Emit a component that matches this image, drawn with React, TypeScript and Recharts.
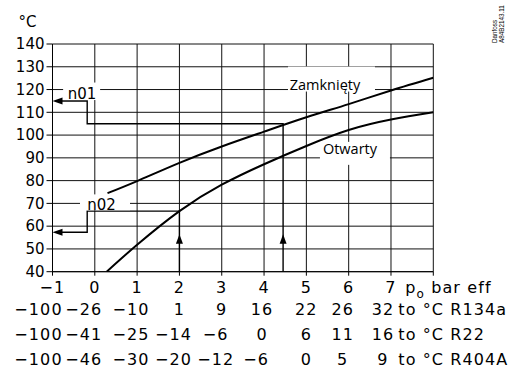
import React from 'react';
import { ComposedChart, Line, XAxis, YAxis, CartesianGrid, ReferenceDot } from 'recharts';

const pressureTicks = [-1, 0, 1, 2, 3, 4, 5, 6, 7, 8];
const temperatureTicks = [40, 50, 60, 70, 80, 90, 100, 110, 120, 130, 140];

const r134a = [-100, -26, -10, 1, 9, 16, 22, 26, 32];
const r22 = [-100, -41, -25, -14, -6, 0, 6, 11, 16];
const r404a = [-100, -46, -30, -20, -12, -6, 0, 5, 9];
const refrigerantNames = ['R134a', 'R22', 'R404A'];
const refrigerantRows = [r134a, r22, r404a];

const closedPressure = [0.3, 1, 2, 3, 4, 5, 6, 7, 8];
const closedTemp = [74.5, 79.8, 87.8, 95, 101.5, 107.8, 113.6, 119.6, 125.2];
const openPressure = [0.28, 1, 2, 3, 4, 5, 6, 7, 8];
const openTemp = [40, 51.8, 66.6, 78.2, 87.2, 95.2, 102.2, 106.8, 110];

const n01Pressure = [4.45, 4.45, -0.18, -0.18, -0.9];
const n01Temp = [40, 105, 105, 115, 115];
const n02Pressure = [2, 2, -0.18, -0.18, -0.9];
const n02Temp = [40, 66.6, 66.6, 57.3, 57.3];

const closedLabel = 'Zamknięty';
const openLabel = 'Otwarty';

const toPoints = (xs: number[], ys: number[]) => xs.map((x, i) => ({ x, y: ys[i] }));
const closedData = toPoints(closedPressure, closedTemp);
const openData = toPoints(openPressure, openTemp);
const n01Data = toPoints(n01Pressure, n01Temp);
const n02Data = toPoints(n02Pressure, n02Temp);

const FONT = 'DejaVu Sans';
const fmt = (v: number) => (v < 0 ? '\u2212' + Math.abs(v) : String(v));
const colShift = [-14, -11, -6, 0, 0, -2, 0, -6, -8];

function PressureTick(props: any) {
  const { x, y, payload } = props;
  const v = payload.value as number;
  const i = pressureTicks.indexOf(v);
  const base = { fontFamily: FONT, fontSize: 16, fill: '#000', letterSpacing: 1.1 } as any;
  if (i === pressureTicks.length - 1) {
    return (
      <g>
        <text x={x - 28} y={y + 15} {...base}>
          p<tspan dy={5} fontSize={12}>o</tspan>
          <tspan dy={-5}> bar eff</tspan>
        </text>
        {refrigerantNames.map((name, k) => (
          <text key={name} x={x - 35} y={y + 37.5 + 25 * k} {...base}>
            {'to °C ' + name}
          </text>
        ))}
      </g>
    );
  }
  return (
    <g>
      <text x={x} y={y + 15} textAnchor="middle" {...base}>
        {fmt(v)}
      </text>
      {refrigerantRows.map((row, k) => {
        const val = row[i];
        const shift = colShift[i] + (val < 0 && i >= 3 && i <= 5 ? -6 : 0);
        return (
          <text key={k} x={x + shift} y={y + 37.5 + 25 * k} textAnchor="middle" {...base}>
            {fmt(val)}
          </text>
        );
      })}
    </g>
  );
}

const leftArrow = (p: any) => (
  <path d={`M${p.cx},${p.cy} l10,-3.5 l0,7 z`} fill="#000" stroke="none" />
);
const upArrow = (p: any) => (
  <path d={`M${p.cx},${p.cy} l-3.5,9.5 l7,0 z`} fill="#000" stroke="none" />
);

const boxLabel = (
  text: string,
  family: string,
  size: number,
  box: [number, number, number, number],
  dy: number
) => (p: any) => (
  <g>
    <rect x={p.cx + box[0]} y={p.cy + box[1]} width={box[2]} height={box[3]} fill="#fff" />
    <text x={p.cx} y={p.cy + dy} textAnchor="middle" fontFamily={family} fontSize={size} fill="#000">
      {text}
    </text>
  </g>
);

export default function App() {
  return (
    <div style={{ position: 'absolute', left: 0, top: 0, width: 510, height: 369, background: '#fff' }}>
      <ComposedChart
        width={510}
        height={369}
        margin={{ top: 44, right: 76.7, left: 7.5, bottom: 7.3 }}
      >
        <CartesianGrid stroke="#111" strokeWidth={1} />
        <XAxis
          type="number"
          dataKey="x"
          domain={[-1, 8]}
          ticks={pressureTicks}
          interval={0}
          allowDataOverflow
          height={90}
          tickSize={4}
          tickMargin={2}
          axisLine={{ stroke: '#000' }}
          tickLine={{ stroke: '#000' }}
          tick={<PressureTick />}
        />
        <YAxis
          type="number"
          domain={[40, 140]}
          ticks={temperatureTicks}
          interval={0}
          allowDataOverflow
          width={45}
          tickSize={6}
          tickMargin={2}
          axisLine={{ stroke: '#000' }}
          tickLine={{ stroke: '#000' }}
          tick={{ fill: '#000', fontSize: 15, fontFamily: FONT }}
          label={(lp: any) => {
            const vb = lp.viewBox || { x: 7.5, y: 44, width: 45 };
            return (
              <text x={vb.x + 20} y={vb.y - 17} textAnchor="middle" fontFamily={FONT} fontSize={15} fill="#000">
                °C
              </text>
            );
          }}
        />
        <ReferenceDot x={5.44} y={120} r={0} shape={boxLabel(closedLabel, 'Open Sans', 14.5, [-37, -23, 87, 25], 0.5)} />
        <ReferenceDot x={6.03} y={90} r={0} shape={boxLabel(openLabel, 'Open Sans', 14.5, [-30, -16, 70, 23], -4)} />
        <ReferenceDot x={-0.3} y={120} r={0} shape={boxLabel('n01', FONT, 15, [-19, -7, 37, 17.5], 9.6)} />
        <ReferenceDot x={0.158} y={70} r={0} shape={boxLabel('n02', FONT, 15, [-21.5, -9, 50, 15.8], 6.4)} />
        <Line data={n01Data} dataKey="y" type="linear" stroke="#000" strokeWidth={1.4} dot={false} isAnimationActive={false} />
        <Line data={n02Data} dataKey="y" type="linear" stroke="#000" strokeWidth={1.4} dot={false} isAnimationActive={false} />
        <Line data={closedData} dataKey="y" type="natural" stroke="#000" strokeWidth={2} dot={false} isAnimationActive={false} />
        <Line data={openData} dataKey="y" type="natural" stroke="#000" strokeWidth={2} dot={false} isAnimationActive={false} />
        <ReferenceDot x={-1} y={115} r={0} shape={leftArrow} />
        <ReferenceDot x={-1} y={57.3} r={0} shape={leftArrow} />
        <ReferenceDot x={2} y={56.5} r={0} shape={upArrow} />
        <ReferenceDot x={4.45} y={56.5} r={0} shape={upArrow} />
      </ComposedChart>
      <svg width={510} height={369} style={{ position: 'absolute', left: 0, top: 0, pointerEvents: 'none' }}>
        <text transform="translate(497,43) rotate(-90)" fontFamily="Liberation Sans" fontSize={6.3} fill="#000">
          Danfoss
        </text>
        <text transform="translate(503.5,43) rotate(-90)" fontFamily="Liberation Sans" fontSize={6.3} fill="#000">
          A84B2143.11
        </text>
      </svg>
    </div>
  );
}
